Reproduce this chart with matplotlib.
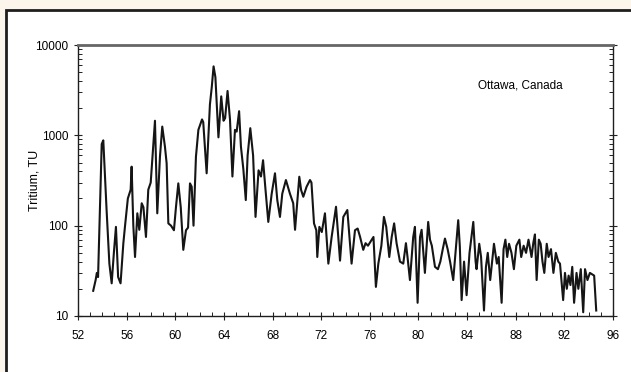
import matplotlib
matplotlib.use("Agg")
import matplotlib.pyplot as plt
from matplotlib.patches import Rectangle
from matplotlib.ticker import LogLocator, MultipleLocator, FixedLocator, NullFormatter
import numpy as np

plt.rcParams['font.family'] = ['Liberation Sans', 'DejaVu Sans']

# Tritium in precipitation, Ottawa (year 19xx, TU)
years = [53.25, 53.45, 53.55, 53.65, 53.95, 54.08, 54.35, 54.58, 54.77, 54.95,
         55.12, 55.30, 55.50, 55.73, 55.87, 56.10, 56.33, 56.41, 56.55, 56.69,
         56.88, 57.04, 57.24, 57.38, 57.59, 57.78, 57.98, 58.20, 58.33, 58.52,
         58.74, 58.93, 59.15, 59.29, 59.43, 59.65, 59.89, 60.06, 60.25, 60.45,
         60.66, 60.88, 61.05, 61.21, 61.35, 61.50, 61.70, 61.90, 62.20, 62.30,
         62.58, 62.85, 63.00, 63.15, 63.30, 63.55, 63.78, 63.97, 64.10, 64.30,
         64.50, 64.70, 64.91, 65.05, 65.25, 65.40, 65.60, 65.80, 65.95, 66.17,
         66.40, 66.60, 66.85, 67.05, 67.22, 67.40, 67.65, 67.93, 68.20, 68.39,
         68.61, 68.80, 69.10, 69.43, 69.70, 69.85, 70.20, 70.35, 70.53, 70.80,
         71.08, 71.20, 71.41, 71.60, 71.68, 71.85, 72.05, 72.31, 72.59, 72.86,
         73.22, 73.55, 73.82, 74.15, 74.50, 74.78, 75.00, 75.20, 75.46, 75.65,
         75.85, 76.10, 76.30, 76.50, 76.70, 76.95, 77.16, 77.35, 77.60, 77.80,
         78.00, 78.20, 78.48, 78.75, 78.97, 79.10, 79.30, 79.57, 79.71, 79.93,
         80.13, 80.26, 80.53, 80.80, 80.95, 81.10, 81.36, 81.60, 81.80, 82.00,
         82.18, 82.40, 82.60, 82.86, 83.27, 83.40, 83.55, 83.75, 83.96, 84.20,
         84.51, 84.70, 84.78, 85.00, 85.15, 85.39, 85.55, 85.70, 85.90, 86.21,
         86.45, 86.60, 86.84, 87.00, 87.15, 87.30, 87.45, 87.65, 87.85, 88.05,
         88.30, 88.45, 88.65, 88.85, 89.05, 89.30, 89.45, 89.58, 89.72, 89.90,
         90.05, 90.20, 90.35, 90.55, 90.70, 90.90, 91.10, 91.30, 91.50, 91.64,
         91.90, 92.05, 92.20, 92.35, 92.50, 92.65, 92.80, 93.00, 93.15, 93.35,
         93.55, 93.70, 93.90, 94.10, 94.45, 94.62]
tritium = [19, 25, 30, 27, 800, 880, 150, 38, 23, 50,
           97, 27, 23, 64, 100, 200, 250, 450, 100, 45,
           137, 90, 177, 160, 75, 250, 300, 815, 1450, 137,
           580, 1250, 750, 490, 106, 100, 89, 162, 294, 160,
           54, 89, 95, 294, 270, 100, 580, 1150, 1500, 1400,
           380, 2200, 3400, 5800, 4400, 950, 2700, 1450, 1550, 3100,
           1500, 350, 1150, 1100, 1850, 750, 420, 192, 600, 1200,
           600, 125, 410, 350, 530, 270, 110, 226, 380, 192,
           125, 226, 320, 226, 177, 90, 348, 248, 209, 270,
           320, 300, 106, 89, 45, 97, 85, 137, 38, 75,
           162, 41, 125, 149, 38, 89, 93, 75, 54, 64,
           60, 68, 75, 21, 38, 60, 125, 97, 45, 75,
           106, 64, 40, 38, 64, 45, 25, 75, 97, 14,
           75, 90, 30, 110, 70, 60, 35, 33, 40, 55,
           72, 55, 40, 25, 115, 60, 15, 40, 17, 50,
           110, 40, 33, 63, 45, 11.5, 35, 50, 25, 63,
           38, 45, 14, 55, 70, 45, 63, 50, 33, 60,
           70, 45, 60, 50, 70, 45, 65, 80, 25, 70,
           63, 40, 30, 63, 45, 55, 30, 50, 40, 38,
           15, 30, 20, 28, 22, 35, 14, 30, 20, 33,
           11, 33, 25, 30, 28, 11.5]

x_ticks = [52, 56, 60, 64, 68, 72, 76, 80, 84, 88, 92, 96]
y_ticks = [10, 100, 1000, 10000]

fig = plt.figure(figsize=(6.31, 3.72), dpi=100)
fig.patch.set_facecolor('#fcf5ec')

# white panel with dark border running off the right and bottom edges
panel = Rectangle((6 / 631, -0.1), 1.2, 1 - 10 / 372 + 0.1,
                  transform=fig.transFigure, facecolor='white',
                  edgecolor='#1e1e1e', linewidth=2.0, zorder=-1)
fig.add_artist(panel)

ax = fig.add_axes([78 / 631, 56 / 372, 535 / 631, 271 / 372])
ax.plot(years, tritium, color='#151515', linewidth=1.5)

ax.set_yscale('log')
ax.set_xlim(52, 96)
ax.set_ylim(10, 10000)

ax.xaxis.set_major_locator(FixedLocator(x_ticks))
ax.xaxis.set_minor_locator(MultipleLocator(1))
ax.set_xticklabels([str(t) for t in x_ticks])
ax.yaxis.set_major_locator(FixedLocator(y_ticks))
ax.set_yticklabels([str(t) for t in y_ticks])
ax.yaxis.set_minor_locator(LogLocator(base=10, subs=np.arange(2, 10)))
ax.yaxis.set_minor_formatter(NullFormatter())

ax.tick_params(axis='both', which='major', direction='inout', length=6,
               width=0.8, labelsize=8.5, color='#222222', pad=4)
ax.tick_params(axis='both', which='minor', direction='in', length=3,
               width=0.7, color='#222222')
ax.tick_params(axis='y', which='both', right=True)
ax.tick_params(axis='x', which='major', pad=7)

for side in ['left', 'bottom', 'right']:
    ax.spines[side].set_color('#1e1e1e')
    ax.spines[side].set_linewidth(1.0)
ax.spines['top'].set_color('#666666')
ax.spines['top'].set_linewidth(2.0)

ax.set_ylabel('Tritium, TU', fontsize=9)
ax.yaxis.set_label_coords(-0.07, 0.5)
ax.text(0.826, 0.849, 'Ottawa, Canada', transform=ax.transAxes,
        ha='center', va='center', fontsize=8.5)

fig.savefig('out.png', dpi=100, facecolor=fig.get_facecolor())
